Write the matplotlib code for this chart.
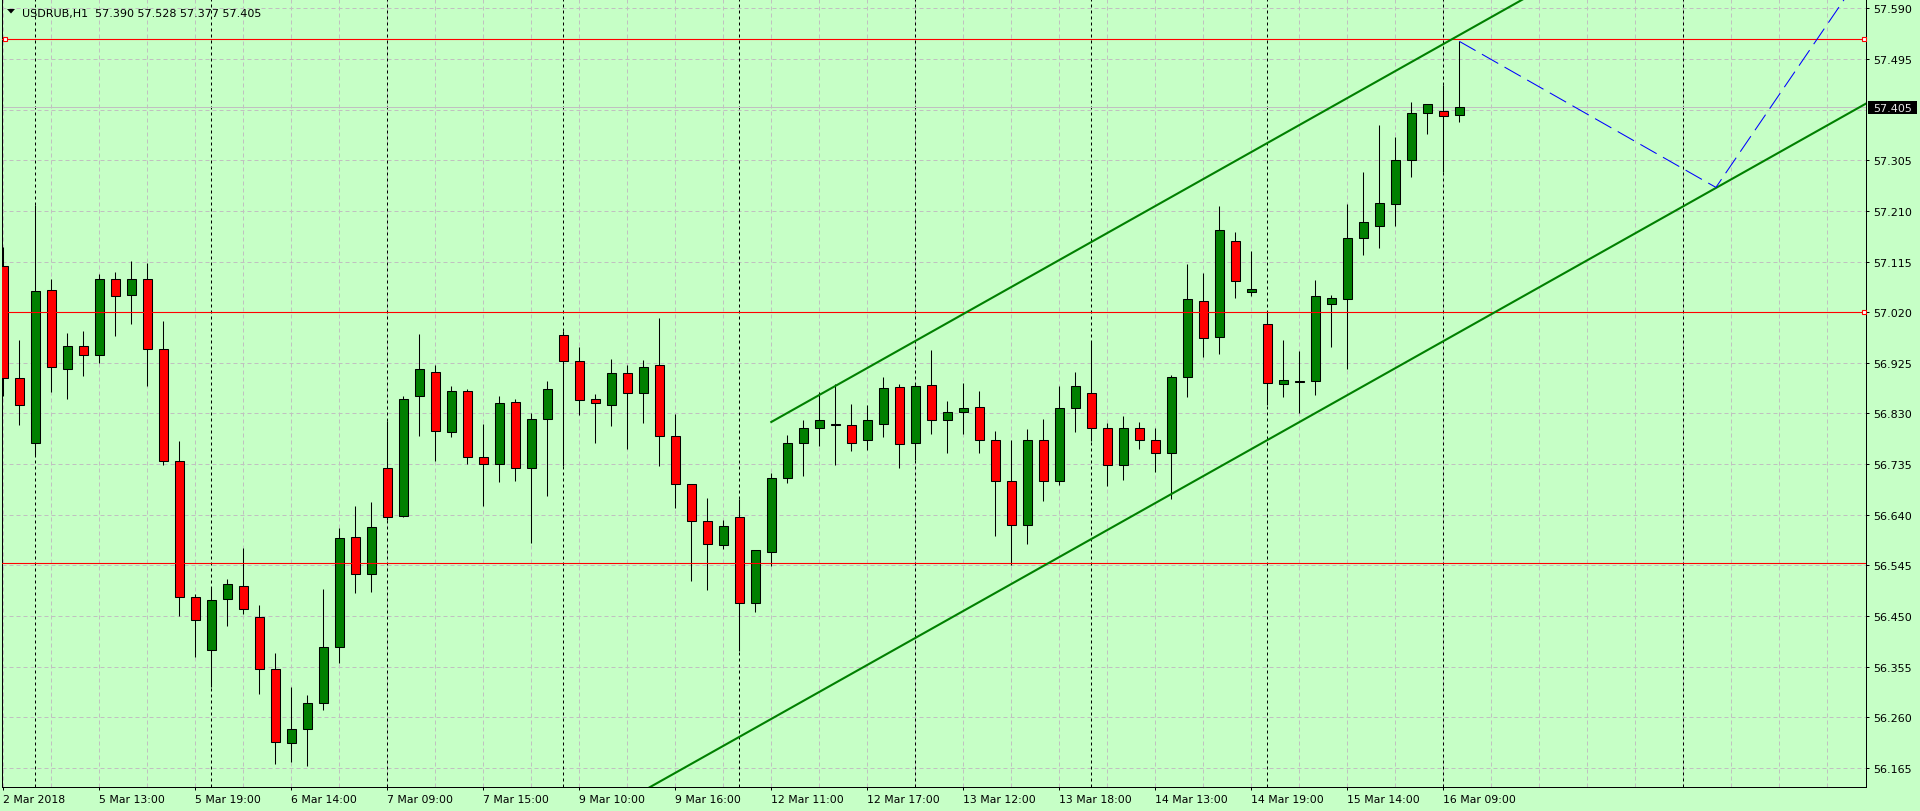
import matplotlib
matplotlib.use('Agg')
import matplotlib.pyplot as plt
from matplotlib.patches import Rectangle, Polygon
import numpy as np

# USDRUB H1, bar 0 = 2 Mar 18:00 ... bar 91 = 16 Mar 10:00 (session 09:00-19:00, 8 Mar holiday)
opens = [57.106, 56.896, 56.774, 57.061, 56.914, 56.956, 56.939, 57.082, 57.052, 57.083,
         56.950, 56.740, 56.485, 56.386, 56.482, 56.507, 56.448, 56.350, 56.211, 56.238,
         56.286, 56.391, 56.599, 56.528, 56.727, 56.637, 56.862, 56.907, 56.795, 56.873,
         56.748, 56.736, 56.851, 56.727, 56.819, 56.977, 56.928, 56.857, 56.845, 56.905,
         56.868, 56.920, 56.787, 56.697, 56.628, 56.583, 56.635, 56.474, 56.571, 56.708,
         56.774, 56.802, 56.811, 56.808, 56.780, 56.811, 56.879, 56.774, 56.883, 56.817,
         56.832, 56.843, 56.780, 56.703, 56.620, 56.780, 56.703, 56.840, 56.868, 56.802,
         56.733, 56.802, 56.781, 56.755, 56.898, 57.040, 56.973, 57.153, 57.057, 56.997,
         56.886, 56.889, 56.890, 57.035, 57.044, 57.160, 57.181, 57.222, 57.305, 57.393,
         57.397, 57.390]
highs = [57.142, 56.968, 57.221, 57.083, 56.981, 56.984, 57.092, 57.095, 57.116, 57.112,
         57.004, 56.779, 56.492, 56.504, 56.520, 56.578, 56.471, 56.380, 56.317, 56.302,
         56.501, 56.615, 56.656, 56.664, 56.815, 56.862, 56.979, 56.921, 56.881, 56.876,
         56.810, 56.863, 56.857, 56.830, 56.891, 56.984, 56.954, 56.866, 56.932, 56.920,
         56.930, 57.009, 56.829, 56.697, 56.671, 56.630, 56.670, 56.573, 56.718, 56.790,
         56.818, 56.870, 56.885, 56.848, 56.846, 56.898, 56.885, 56.885, 56.949, 56.853,
         56.888, 56.873, 56.797, 56.780, 56.801, 56.820, 56.881, 56.907, 56.966, 56.812,
         56.825, 56.814, 56.803, 56.902, 57.110, 57.093, 57.219, 57.170, 57.134, 57.021,
         56.968, 56.947, 57.080, 57.053, 57.223, 57.283, 57.371, 57.348, 57.415, 57.410,
         57.446, 57.528]
lows = [56.862, 56.808, 56.752, 56.871, 56.858, 56.901, 56.924, 56.976, 56.998, 56.882,
        56.733, 56.450, 56.374, 56.316, 56.432, 56.453, 56.304, 56.172, 56.177, 56.169,
        56.274, 56.361, 56.494, 56.496, 56.630, 56.635, 56.788, 56.740, 56.785, 56.736,
        56.657, 56.702, 56.704, 56.587, 56.676, 56.732, 56.828, 56.775, 56.807, 56.764,
        56.813, 56.732, 56.653, 56.515, 56.498, 56.575, 56.384, 56.457, 56.543, 56.700,
        56.713, 56.768, 56.734, 56.759, 56.762, 56.785, 56.727, 56.742, 56.792, 56.755,
        56.792, 56.756, 56.601, 56.546, 56.586, 56.666, 56.695, 56.796, 56.778, 56.694,
        56.706, 56.763, 56.721, 56.670, 56.861, 56.935, 56.942, 57.047, 57.051, 56.845,
        56.861, 56.831, 56.865, 56.955, 56.914, 57.128, 57.140, 57.182, 57.274, 57.355,
        57.283, 57.377]
closes = [56.897, 56.846, 57.059, 56.917, 56.956, 56.939, 57.082, 57.050, 57.083, 56.950,
          56.740, 56.485, 56.442, 56.481, 56.510, 56.464, 56.350, 56.213, 56.238, 56.286,
          56.391, 56.597, 56.529, 56.617, 56.635, 56.858, 56.913, 56.798, 56.873, 56.748,
          56.735, 56.849, 56.727, 56.819, 56.875, 56.928, 56.855, 56.849, 56.905, 56.868,
          56.918, 56.787, 56.697, 56.628, 56.585, 56.618, 56.474, 56.573, 56.708, 56.774,
          56.802, 56.817, 56.808, 56.774, 56.817, 56.877, 56.772, 56.881, 56.817, 56.832,
          56.841, 56.781, 56.703, 56.620, 56.781, 56.703, 56.841, 56.881, 56.802, 56.733,
          56.802, 56.781, 56.756, 56.898, 57.044, 56.971, 57.174, 57.078, 57.063, 56.888,
          56.892, 56.891, 57.050, 57.046, 57.160, 57.189, 57.224, 57.305, 57.393, 57.410,
          57.387, 57.405]

tick_idx = [0, 6, 12, 18, 24, 30, 36, 42, 48, 54, 60, 66, 72, 78, 84, 90]
tick_labels = ['2 Mar 2018', '5 Mar 13:00', '5 Mar 19:00', '6 Mar 14:00', '7 Mar 09:00',
               '7 Mar 15:00', '9 Mar 10:00', '9 Mar 16:00', '12 Mar 11:00', '12 Mar 17:00',
               '13 Mar 12:00', '13 Mar 18:00', '14 Mar 13:00', '14 Mar 19:00',
               '15 Mar 14:00', '16 Mar 09:00']
day_starts = [2, 13, 24, 35, 46, 57, 68, 79, 90, 105]
price_grid = [56.165, 56.260, 56.355, 56.450, 56.545, 56.640, 56.735, 56.830,
              56.925, 57.020, 57.115, 57.210, 57.305, 57.400, 57.495, 57.590]

red_levels = [57.532, 57.021, 56.549]
bid = 57.405
header = 'USDRUB,H1  57.390 57.528 57.377 57.405'

# channel: two points on each line
upper_pts = [(48, 56.814), (86.04, 57.456)]
lower_pts = [(60.21, 56.463), (107.04, 57.253)]
# forecast path (blue dashed)
wave_x = [91, 107.04, 116]
wave_y = [57.528, 57.254, 57.648]

bg = '#C6FFC6'
grid_c = '#C0C0C0'
W, H = 1920, 812

fig = plt.figure(figsize=(W / 100, H / 100), dpi=100, facecolor=bg)
ax = fig.add_axes([2 / W, 24 / H, 1864 / W, 788 / H])
ax.set_facecolor(bg)
ax.set_xlim(-0.08, 116.42)
ax.set_ylim(56.1293, 57.6074)

for i in range(0, 117, 3):
    ax.axvline(i, color=grid_c, lw=0.72, ls=(0, (4, 3)), zorder=0)
for p in price_grid:
    ax.axhline(p, color=grid_c, lw=0.72, ls=(0, (4, 3)), zorder=0)
for d in day_starts:
    ax.axvline(d, color='black', lw=0.72, ls=(0, (3, 3)), zorder=1)
ax.axhline(bid, color=grid_c, lw=0.72, zorder=1)

idx = np.arange(len(opens))
o = np.array(opens)
c = np.array(closes)
up = c >= o
ax.vlines(idx, lows, highs, colors='black', lw=0.75, zorder=2)
ax.bar(idx, np.abs(c - o), bottom=np.minimum(o, c), width=0.56,
       color=np.where(up, '#008000', '#FF0000'), edgecolor='black', linewidth=0.75, zorder=3)

for lv in red_levels:
    ax.axhline(lv, color='#FF0000', lw=0.8, zorder=4)
ax.plot([0.13, 116.3, 116.3], [red_levels[0], red_levels[0], red_levels[1]], ls='none',
        marker='s', ms=3.2, mfc='white', mec='#FF0000', mew=0.8, zorder=6, clip_on=False)

def line_through(pts, x0, x1):
    (xa, ya), (xb, yb) = pts
    k = (yb - ya) / (xb - xa)
    return [x0, x1], [ya + k * (x0 - xa), ya + k * (x1 - xa)]

ux, uy = line_through(upper_pts, 48, 125)
lx, ly = line_through(lower_pts, 30, 125)
ax.plot(ux, uy, color='#008000', lw=1.5, zorder=5)
ax.plot(lx, ly, color='#008000', lw=1.5, zorder=5)
ax.plot(wave_x, wave_y, color='#0000FF', lw=0.75, ls=(0, (18, 7)), zorder=5)

ax.spines['top'].set_visible(False)
for s in ['left', 'right', 'bottom']:
    ax.spines[s].set_linewidth(0.72)
    ax.spines[s].set_color('black')

ax.yaxis.tick_right()
yt = [p for p in price_grid if abs(p - 57.400) > 1e-6]
ax.set_yticks(yt, ['%.3f' % p for p in yt])
ax.tick_params(axis='y', direction='out', length=2.2, width=0.72, pad=2.9, labelsize=8, colors='black')
ax.set_xticks(tick_idx, tick_labels)
ax.tick_params(axis='x', direction='out', length=2.2, width=0.72, pad=2.9, labelsize=7.8, colors='black')
for t in ax.get_xticklabels():
    t.set_ha('left')

# current price tag
fig.patches.append(Rectangle((1868 / W, 697.5 / H), 49 / W, 12.5 / H, transform=fig.transFigure,
                             facecolor='black', edgecolor='none', zorder=10))
fig.text(1873 / W, (812 - 108.5) / H, '%.3f' % bid, color='#E8E8E8', fontsize=8,
         ha='left', va='center', zorder=11)

# header
fig.patches.append(Polygon([(7 / W, 802 / H), (15 / W, 802 / H), (11 / W, 797.5 / H)],
                           closed=True, transform=fig.transFigure, facecolor='black', zorder=10))
fig.text(22 / W, 795.5 / H, header, fontsize=8, ha='left', va='baseline', color='black', zorder=11)

fig.savefig('out.png', dpi=100, facecolor=bg)
